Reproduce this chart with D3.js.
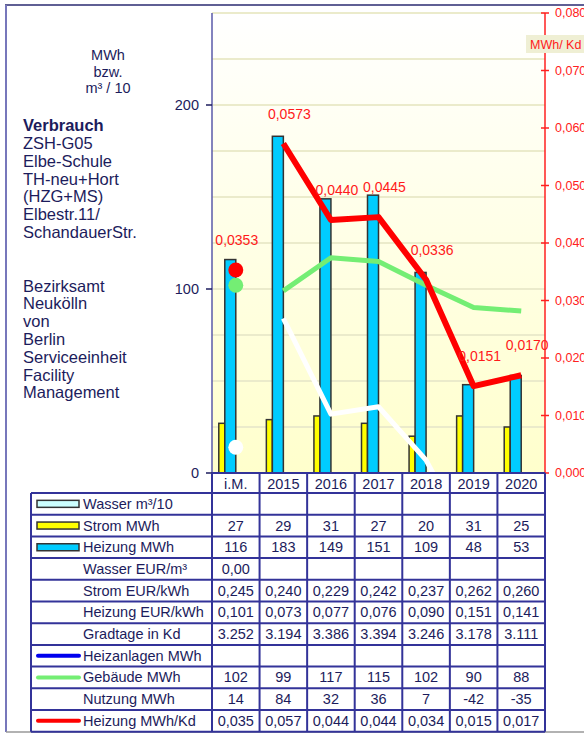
<!DOCTYPE html>
<html>
<head>
<meta charset="utf-8">
<script src="https://d3js.org/d3.v7.min.js"></script>
<style>
  body { margin: 0; background: #fff; }
  svg text { font-family: "Liberation Sans", Arial, sans-serif; }
</style>
</head>
<body>
<div id="chart"></div>
<script>
// ---- data ----
const categories = ['i.M.', '2015', '2016', '2017', '2018', '2019', '2020']
const strom = [27, 29, 31, 27, 20, 31, 25]
const heizung = [116, 183, 149, 151, 109, 48, 53]
const wasserEur = [0.00, null, null, null, null, null, null]
const stromEur = [0.245, 0.240, 0.229, 0.242, 0.237, 0.262, 0.260]
const heizungEur = [0.101, 0.073, 0.077, 0.076, 0.090, 0.151, 0.141]
const gradtage = [3252, 3194, 3386, 3394, 3246, 3178, 3111]
const gebaeude = [102, 99, 117, 115, 102, 90, 88]
const nutzung = [14, 84, 32, 36, 7, -42, -35]
const heizungKd = [0.0353, 0.0573, 0.0440, 0.0445, 0.0336, 0.0151, 0.0170]
const leftTicks = [0, 100, 200]
const rightTicks = [0, 0.01, 0.02, 0.03, 0.04, 0.05, 0.06, 0.07, 0.08]
const titleLines = ['ZSH-G05', 'Elbe-Schule', 'TH-neu+Hort', '(HZG+MS)', 'Elbestr.11/', 'SchandauerStr.']
const ownerLines = ['Bezirksamt', 'Neukölln', 'von', 'Berlin', 'Serviceeinheit', 'Facility', 'Management']

const de = d3.formatLocale({ decimal: ',', thousands: '.', grouping: [3], currency: ['', '€'], minus: '-' })
const f2 = de.format('.2f'), f3 = de.format('.3f'), f4 = de.format('.4f'), fInt = de.format(',d')

const width = 584, height = 733
const plot = { left: 212, right: 545, top: 13, bottom: 473 }
const navy = '#1c1c5c', border = '#333399'

const svg = d3.select('#chart').append('svg')
    .attr('width', width).attr('height', height)

const x = d3.scaleBand().domain(categories).range([plot.left, plot.right])
const bw = x.bandwidth()
const cx = c => x(c) + bw / 2
const y = d3.scaleLinear().domain([0, 250]).range([plot.bottom, plot.top])
const yR = d3.scaleLinear().domain([0, 0.08]).range([plot.bottom, plot.top])

// background
const defs = svg.append('defs')
const grad = defs.append('linearGradient').attr('id', 'bg')
    .attr('x1', 0).attr('y1', 0).attr('x2', 0).attr('y2', 1)
grad.append('stop').attr('offset', 0).attr('stop-color', '#ffffff')
grad.append('stop').attr('offset', 1).attr('stop-color', '#ffffcc')
defs.append('clipPath').attr('id', 'clip').append('rect')
    .attr('x', plot.left).attr('y', plot.top)
    .attr('width', plot.right - plot.left).attr('height', plot.bottom - plot.top)

svg.append('rect')
    .attr('x', plot.left).attr('y', plot.top)
    .attr('width', plot.right - plot.left).attr('height', plot.bottom - plot.top)
    .attr('fill', 'url(#bg)')

// frame
svg.append('line').attr('x1', 5).attr('x2', width).attr('y1', 5).attr('y2', 5)
    .attr('stroke', '#2a2a70').attr('stroke-width', 1.5)
svg.append('line').attr('x1', 6).attr('x2', 6).attr('y1', 5).attr('y2', 732)
    .attr('stroke', '#7777bb').attr('stroke-width', 2)
svg.append('line').attr('x1', 6).attr('x2', width).attr('y1', 732).attr('y2', 732)
    .attr('stroke', '#999999').attr('stroke-width', 1.5)

// gridlines
svg.append('g')
    .selectAll('line').data(d3.range(25, 251, 25)).enter().append('line')
    .attr('x1', plot.left).attr('x2', plot.right)
    .attr('y1', d => y(d)).attr('y2', d => y(d))
    .attr('stroke', '#ebebcb').attr('stroke-width', 2)

// bars
const barG = svg.append('g')
barG.selectAll('.strom').data(strom).enter().append('rect')
    .attr('x', (d, i) => cx(categories[i]) - 17)
    .attr('width', 6)
    .attr('y', d => y(d)).attr('height', d => y(0) - y(d))
    .attr('fill', '#ffff00').attr('stroke', '#333333').attr('stroke-width', 1.5)
barG.selectAll('.heiz').data(heizung).enter().append('rect')
    .attr('x', (d, i) => cx(categories[i]) - 11)
    .attr('width', 11)
    .attr('y', d => y(d)).attr('height', d => y(0) - y(d))
    .attr('fill', '#00ccff').attr('stroke', '#333333').attr('stroke-width', 1.5)

// lines (from 2015 on), i.M. drawn as dots
const lineG = svg.append('g').attr('clip-path', 'url(#clip)')
function drawLine(values, scale, color, w) {
    const pts = values.map((v, i) => [cx(categories[i]), scale(v)]).slice(1)
    lineG.append('path')
        .attr('d', d3.line()(pts))
        .attr('fill', 'none').attr('stroke', color).attr('stroke-width', w)
        .attr('stroke-linejoin', 'round')
    svg.append('circle')
        .attr('cx', cx(categories[0])).attr('cy', scale(values[0]))
        .attr('r', 7.5).attr('fill', color)
}
drawLine(nutzung, y, '#ffffff', 5)
drawLine(gebaeude, y, '#74ee74', 5)
drawLine(heizungKd, yR, '#ff0000', 6)

svg.append('g').selectAll('text').data(heizungKd).enter().append('text')
    .attr('x', (d, i) => cx(categories[i]) + (i === 0 ? 1 : 6))
    .attr('y', d => yR(d) - 25)
    .attr('text-anchor', 'middle')
    .attr('fill', '#ff1a1a').attr('font-size', 14)
    .text(d => f4(d))

// left axis
svg.append('line').attr('x1', plot.left).attr('x2', plot.left)
    .attr('y1', plot.top).attr('y2', plot.bottom)
    .attr('stroke', '#5a5aa8').attr('stroke-width', 1.5)
const la = svg.append('g').selectAll('g').data(leftTicks).enter().append('g')
la.append('line').attr('x1', plot.left - 6).attr('x2', plot.left)
    .attr('y1', d => y(d)).attr('y2', d => y(d)).attr('stroke', navy).attr('stroke-width', 1.5)
la.append('text').attr('x', plot.left - 13).attr('y', d => y(d) + 5)
    .attr('text-anchor', 'end').attr('fill', navy).attr('font-size', 14.5)
    .text(d => d)

// right axis
svg.append('line').attr('x1', plot.right).attr('x2', plot.right)
    .attr('y1', plot.top).attr('y2', plot.bottom)
    .attr('stroke', '#ff2020').attr('stroke-width', 1.5)
const ra = svg.append('g').selectAll('g').data(rightTicks).enter().append('g')
ra.append('line').attr('x1', plot.right - 4).attr('x2', plot.right + 4)
    .attr('y1', d => yR(d)).attr('y2', d => yR(d)).attr('stroke', '#ff2020').attr('stroke-width', 1.5)
ra.append('text').attr('x', plot.right + 10).attr('y', d => yR(d) + 4)
    .attr('fill', '#ff2020').attr('font-size', 12.5)
    .text(d => f3(d))
svg.append('rect').attr('x', 526).attr('y', 35).attr('width', 60).attr('height', 18)
    .attr('fill', '#efefd4')
svg.append('text').attr('x', 530).attr('y', 48.5).attr('fill', '#ff2020').attr('font-size', 12.5)
    .text('MWh/ Kd')

// left texts
svg.append('g').selectAll('text').data(['MWh', 'bzw.', 'm³ / 10']).enter().append('text')
    .attr('x', 108).attr('y', (d, i) => 60 + i * 16.5)
    .attr('text-anchor', 'middle').attr('fill', navy).attr('font-size', 14.5)
    .text(d => d)
svg.append('text').attr('x', 23).attr('y', 131).attr('fill', navy)
    .attr('font-size', 16.5).attr('font-weight', 'bold').text('Verbrauch')
svg.append('g').selectAll('text').data(titleLines).enter().append('text')
    .attr('x', 23).attr('y', (d, i) => 149 + i * 17.8)
    .attr('fill', navy).attr('font-size', 16.5).text(d => d)
svg.append('g').selectAll('text').data(ownerLines).enter().append('text')
    .attr('x', 23).attr('y', (d, i) => 291.5 + i * 17.8)
    .attr('fill', navy).attr('font-size', 16.5).text(d => d)

// table
const tableLeft = 31, rowTop = 493, rowH = 21.7
const rows = [
    { label: 'Wasser m³/10', sw: 'rect', color: '#ccffff', vals: categories.map(() => '') },
    { label: 'Strom MWh', sw: 'rect', color: '#ffff00', vals: strom.map(fInt) },
    { label: 'Heizung MWh', sw: 'rect', color: '#00ccff', vals: heizung.map(fInt) },
    { label: 'Wasser EUR/m³', vals: wasserEur.map(d => d == null ? '' : f2(d)) },
    { label: 'Strom EUR/kWh', vals: stromEur.map(f3) },
    { label: 'Heizung EUR/kWh', vals: heizungEur.map(f3) },
    { label: 'Gradtage in Kd', vals: gradtage.map(fInt) },
    { label: 'Heizanlagen MWh', sw: 'line', color: '#0000ee', vals: categories.map(() => '') },
    { label: 'Gebäude MWh', sw: 'line', color: '#74ee74', vals: gebaeude.map(fInt) },
    { label: 'Nutzung MWh', vals: nutzung.map(fInt) },
    { label: 'Heizung MWh/Kd', sw: 'line', color: '#ff0000', vals: heizungKd.map(f3) }
]
const tableBottom = rowTop + rows.length * rowH
const tg = svg.append('g')

// header
tg.selectAll('.hdr').data(categories).enter().append('text')
    .attr('x', d => cx(d)).attr('y', 489)
    .attr('text-anchor', 'middle').attr('fill', navy).attr('font-size', 14.5)
    .text(d => d)

const rg = tg.selectAll('.row').data(rows).enter().append('g')
    .attr('transform', (d, i) => `translate(0,${rowTop + i * rowH})`)
rg.append('text').attr('x', 83).attr('y', rowH / 2 + 5)
    .attr('fill', navy).attr('font-size', 14.5).text(d => d.label)
rg.filter(d => d.sw === 'rect').append('rect')
    .attr('x', 37).attr('y', rowH / 2 - 3.5).attr('width', 42).attr('height', 7)
    .attr('fill', d => d.color).attr('stroke', '#333333').attr('stroke-width', 1.5)
rg.filter(d => d.sw === 'line').append('line')
    .attr('x1', 38).attr('x2', 79).attr('y1', rowH / 2).attr('y2', rowH / 2)
    .attr('stroke', d => d.color).attr('stroke-width', 4).attr('stroke-linecap', 'round')
rg.selectAll('.v').data(d => d.vals).enter().append('text')
    .attr('x', (d, i) => cx(categories[i])).attr('y', rowH / 2 + 5)
    .attr('text-anchor', 'middle').attr('fill', navy).attr('font-size', 14.5)
    .text(d => d)

// grid of table
const hLines = d3.range(rows.length + 1).map(i => rowTop + i * rowH)
tg.selectAll('.hl').data(hLines).enter().append('line')
    .attr('x1', tableLeft).attr('x2', plot.right)
    .attr('y1', d => d).attr('y2', d => d)
    .attr('stroke', border).attr('stroke-width', 2)
tg.append('line').attr('x1', plot.left).attr('x2', plot.right)
    .attr('y1', plot.bottom).attr('y2', plot.bottom)
    .attr('stroke', border).attr('stroke-width', 2)
tg.append('line').attr('x1', tableLeft).attr('x2', tableLeft)
    .attr('y1', rowTop).attr('y2', tableBottom)
    .attr('stroke', border).attr('stroke-width', 2)
const vLines = categories.map(c => x(c)).concat([plot.right])
tg.selectAll('.vl').data(vLines).enter().append('line')
    .attr('x1', d => d).attr('x2', d => d)
    .attr('y1', plot.bottom).attr('y2', tableBottom)
    .attr('stroke', border).attr('stroke-width', 2)
</script>
</body>
</html>
